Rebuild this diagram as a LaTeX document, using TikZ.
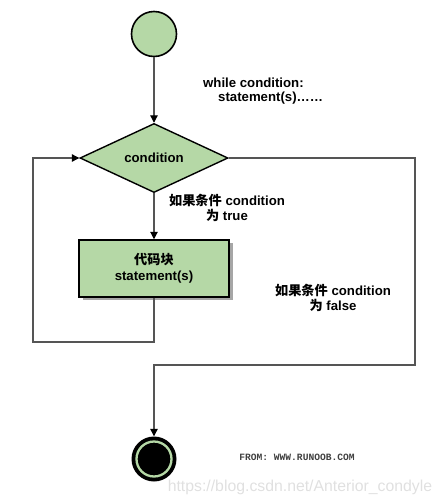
\documentclass[tikz,border=0pt]{standalone}
\usepackage{fontspec}
\setmainfont{Liberation Sans}
\setmonofont{Liberation Mono}
\newfontfamily\cjk{Noto Sans CJK SC}
\usetikzlibrary{shapes.geometric,arrows.meta}
\definecolor{flowgreen}{RGB}{181,216,166}
\definecolor{linegray}{RGB}{85,85,85}
\tikzset{
  lbl/.style={font=\fontsize{13.2}{15}\selectfont\bfseries, text=black, inner sep=0pt, align=center},
  conn/.style={draw=linegray, line width=1.1pt},
  arr/.style={conn, -{Triangle[width=7.5pt,length=7.5pt,color=black]}},
}
\begin{document}
\begin{tikzpicture}[x=1pt,y=-1pt]
\useasboundingbox (0,0) rectangle (443,504);
% start
\node[circle, draw=black, line width=1.6pt, fill=flowgreen, minimum size=45pt, inner sep=0] (start) at (154,34) {};
% condition diamond
\node[diamond, draw=black, line width=1.4pt, fill=flowgreen, minimum width=148pt, minimum height=68pt, inner sep=0, lbl] (cond) at (154,158) {condition};
% box with shadow
\fill[gray!70] (83,243) rectangle (233,300);
\node[rectangle, draw=black, line width=1.5pt, fill=flowgreen, minimum width=150pt, minimum height=57pt, inner sep=0, lbl, font=\fontsize{13.2}{16}\selectfont\bfseries] (box) at (154,268.5) {{\cjk\bfseries 代码块}\\statement(s)};
% end
\node[circle, fill=black, minimum size=45pt, inner sep=0] (end) at (154,459) {};
\draw[flowgreen, line width=2.3pt] (end.center) circle (17.5pt);
% corner coordinates
\coordinate (bl) at (154,342);
\coordinate (ll) at (33,342);
\coordinate (lt) at (33,158);
\coordinate (rt) at (415,158);
\coordinate (rb) at (415,365);
\coordinate (mb) at (154,365);
% connectors
\draw[arr] (start) -- (cond.north);
\draw[arr] (cond.south) -- (box.north);
\draw[arr] (box.south) -- (bl) -- (ll) -- (lt) -- (cond.west);
\draw[arr] (cond.east) -- (rt) -- (rb) -- (mb) -- (end.north);
% labels
\node[lbl, anchor=west] (w1) at (203,83) {while condition:};
\node[lbl, anchor=west] (w2) at (218,98) {statement(s)……};
\node[lbl] (tl) at (227,207.5) {{\cjk\bfseries 如果条件} condition\\{\cjk\bfseries 为} true};
\node[lbl] (fl) at (333,298) {{\cjk\bfseries 如果条件} condition\\{\cjk\bfseries 为} false};
\node[font=\ttfamily\fontsize{9.6}{11}\selectfont\bfseries, text=black!75, inner sep=0] (from) at (297,457) {FROM: WWW.RUNOOB.COM};
\node[font=\fontsize{15.8}{18}\selectfont, text=black!12, inner sep=0] (wm) at (300,487) {https://blog.csdn.net/Anterior\_condyle};
\end{tikzpicture}
\end{document}
